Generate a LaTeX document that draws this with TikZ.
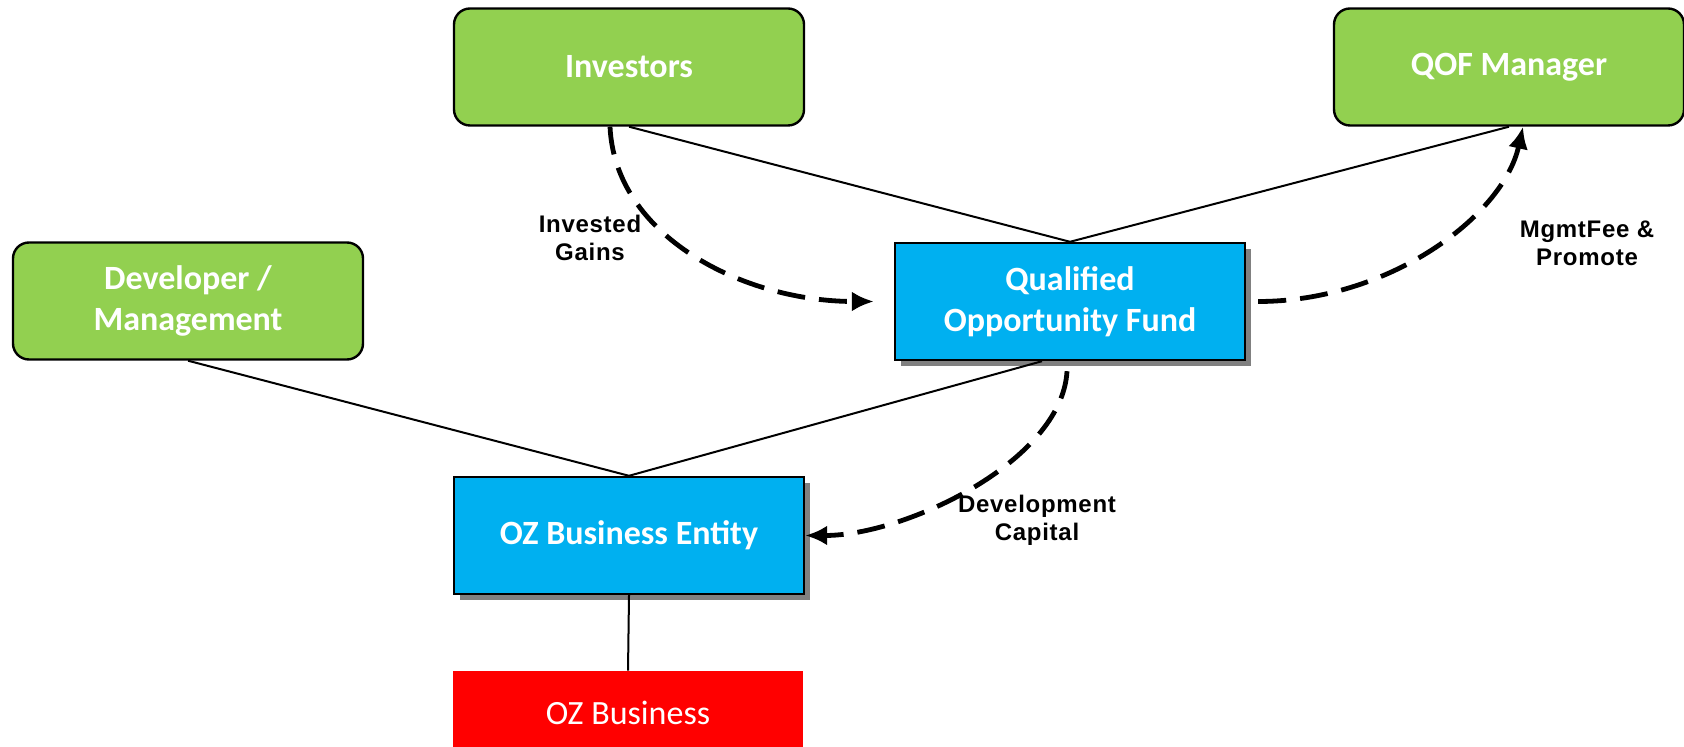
\documentclass[tikz,border=0pt]{standalone}
\usepackage{fontspec}
\setmainfont{Carlito}
\newfontfamily\notefont[LetterSpace=3]{Liberation Sans}
\usetikzlibrary{arrows.meta,shadows}
\definecolor{partygreen}{HTML}{92D050}
\definecolor{fundblue}{HTML}{00B0F0}
\definecolor{bizred}{HTML}{FF0000}

\begin{document}
\begin{tikzpicture}[x=0.5pt,y=-0.5pt,
    box/.style={minimum width=175pt,minimum height=58.5pt,text=white,align=center,
        font=\fontsize{17}{20.4}\selectfont\bfseries},
    party/.style={box,draw=black,line width=1.2pt,fill=partygreen,rounded corners=8pt},
    entity/.style={box,draw=black,line width=1.2pt,fill=fundblue,
        drop shadow={shadow xshift=3pt,shadow yshift=-3pt,fill=black!50,opacity=1}},
    biz/.style={box,fill=bizred,minimum height=42pt,font=\fontsize{17}{20.4}\selectfont},
    link/.style={draw=black,line width=1pt},
    flow/.style={draw=black,line width=2.4pt,dash pattern=on 14pt off 7pt,
        -{Latex[length=11pt,width=10pt]}},
    note/.style={align=center,font=\notefont\fontsize{12}{14}\selectfont\bfseries}]
\clip (0,0) rectangle (1684,747);
\fill[white] (0,0) rectangle (1684,747);

\node[party] (inv) at (629,67) {Investors};
\node[party] (mgr) at (1509,67) {QOF Manager};
\node[party] (dev) at (188,301) {Developer /\\Management};
\node[entity] (qof) at (1070,301.5) {Qualified\\Opportunity Fund};
\node[entity] (ent) at (629,535.5) {OZ Business Entity};
\node[biz] (biz) at (628,713) {OZ Business};

% ownership lines
\draw[link] (inv.south) -- (qof.north);
\draw[link] (mgr.south) -- (qof.north);
\draw[link] (dev.south) -- (ent.north);
\draw[link] ([xshift=-14pt]qof.south) -- (ent.north);
\draw[link] (ent.south) -- (biz.north);

% money flows
\draw[flow] ([xshift=-9.5pt]inv.south) .. controls +(5,110) and +(-130,0) .. ([xshift=-10pt]qof.west);
\draw[flow] ([xshift=6pt]qof.east) .. controls +(130,0) and +(-20,90) .. ([xshift=7pt]mgr.south);
\draw[flow] ([xshift=-1.5pt,yshift=-5pt]qof.south) .. controls +(-5,90) and +(100,0) .. (ent.east);

\node[note] (gains) at (590,238) {Invested\\Gains};
\node[note] (fee) at (1587,243) {MgmtFee \&\\Promote};
\node[note] (capital) at (1037,520) {Development\\Capital};
\end{tikzpicture}
\end{document}
